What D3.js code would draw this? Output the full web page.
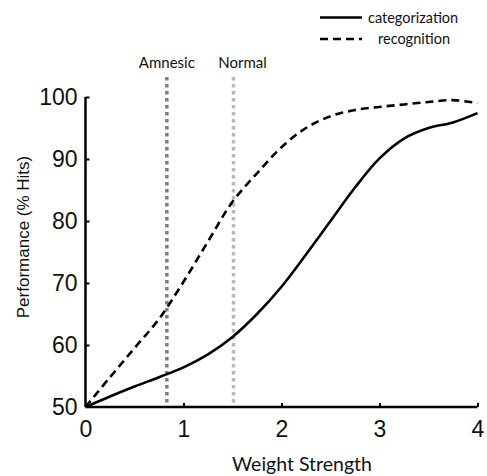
<!DOCTYPE html>
<html>
<head>
<meta charset="utf-8">
<script src="https://cdn.jsdelivr.net/npm/d3@7"></script>
<style>
  body { margin: 0; background: #fff; }
  svg { display: block; }
</style>
</head>
<body>
<div class="chart"></div>
<script>
// weight strength samples
var weights = [0, 0.25, 0.5, 0.75, 1, 1.25, 1.5, 1.75, 2, 2.25, 2.5, 2.75, 3, 3.25, 3.5, 3.75, 4];
// performance (% hits)
var categorization = [50, 51.7, 53.3, 54.8, 56.4, 58.5, 61.3, 65.0, 69.4, 74.6, 80.0, 85.4, 90.1, 93.3, 95.0, 95.9, 97.4];
var recognition = [50, 54.8, 59.5, 64.2, 70.2, 76.7, 83.1, 87.7, 91.9, 95.0, 96.9, 97.9, 98.4, 98.8, 99.2, 99.5, 99.0];

var xTicks = [0, 1, 2, 3, 4];
var yTicks = [50, 60, 70, 80, 90, 100];

// where the two groups sit on the weight axis
var markers = [
    {name: "Amnesic", weight: 0.83, color: "#7d7d7d", dx: 0},
    {name: "Normal", weight: 1.51, color: "#b8b8b8", dx: 9}
];

var width = 487, height = 476;
var margin = {left: 85.5, right: 9.5, top: 97, bottom: 69};
var tickFont = "'Liberation Sans', Arial, sans-serif";
var textFont = "Lato, 'Open Sans', sans-serif";

var svg = d3.select("div.chart")
    .append("svg")
    .attr("width", width)
    .attr("height", height);

var x = d3.scaleLinear()
    .domain([0, 4])
    .range([margin.left, width - margin.right]);

var y = d3.scaleLinear()
    .domain([50, 100])
    .range([height - margin.bottom, margin.top]);

// vertical dotted markers (drawn first, axes sit on top)
markers.forEach(function (m) {
    svg.append("line")
        .attr("x1", x(m.weight)).attr("x2", x(m.weight))
        .attr("y1", y(100) - 20).attr("y2", y(50))
        .attr("stroke", m.color)
        .attr("stroke-width", 3.5)
        .attr("stroke-dasharray", "3.5,3.5");
    svg.append("text")
        .attr("x", x(m.weight) + m.dx)
        .attr("y", 68)
        .attr("text-anchor", "middle")
        .style("font-family", textFont)
        .style("font-size", "15px")
        .attr("fill", "#111")
        .text(m.name);
});

// axes, ticks pointing inward
var xAxis = svg.append("g")
    .attr("transform", "translate(0," + y(50) + ")")
    .call(d3.axisBottom(x).tickValues(xTicks).tickSize(-4).tickPadding(10).tickFormat(d3.format("d")));

var yAxis = svg.append("g")
    .attr("transform", "translate(" + x(0) + ",0)")
    .call(d3.axisLeft(y).tickValues(yTicks).tickSize(-4).tickPadding(8).tickFormat(d3.format("d")));

[xAxis, yAxis].forEach(function (g) {
    g.select(".domain").attr("stroke", "#000").attr("stroke-width", 2.5);
    g.selectAll(".tick line").attr("stroke", "#000").attr("stroke-width", 2);
    g.selectAll(".tick text")
        .attr("fill", "#111")
        .style("font-family", tickFont)
        .style("font-size", "23px");
});
xAxis.selectAll(".tick text").attr("dy", "0.85em");
xAxis.selectAll(".tick").filter(function (d) { return d === 0; }).select("line").remove();
yAxis.selectAll(".tick").filter(function (d) { return d === 50; }).select("line").remove();
yAxis.select(".domain").attr("d", "M0," + y(50) + "V" + y(100));
xAxis.select(".domain").attr("d", "M" + x(0) + ",0H" + x(4));

// curves
var line = d3.line()
    .x(function (d) { return x(d[0]); })
    .y(function (d) { return y(d[1]); })
    .curve(d3.curveCatmullRom.alpha(0.5));

svg.append("path")
    .datum(d3.zip(weights, recognition))
    .attr("d", line)
    .attr("fill", "none")
    .attr("stroke", "#000")
    .attr("stroke-width", 2.6)
    .attr("stroke-dasharray", "8,5");

svg.append("path")
    .datum(d3.zip(weights, categorization))
    .attr("d", line)
    .attr("fill", "none")
    .attr("stroke", "#000")
    .attr("stroke-width", 2.6);

// axis titles
svg.append("text")
    .attr("x", 302)
    .attr("y", 471)
    .attr("text-anchor", "middle")
    .style("font-family", textFont)
    .style("font-size", "19.5px")
    .attr("fill", "#111")
    .text("Weight Strength");

svg.append("text")
    .attr("transform", "translate(29," + 237 + ") rotate(-90)")
    .attr("text-anchor", "middle")
    .style("font-family", tickFont)
    .style("font-size", "17px")
    .attr("fill", "#111")
    .text("Performance (% Hits)");

// legend
var legend = [
    {label: "categorization", dash: null, y: 17.5, tx: 368},
    {label: "recognition", dash: "8,5", y: 39, tx: 378}
];
legend.forEach(function (l) {
    svg.append("line")
        .attr("x1", 320).attr("x2", 362)
        .attr("y1", l.y).attr("y2", l.y)
        .attr("stroke", "#000")
        .attr("stroke-width", 2.6)
        .attr("stroke-dasharray", l.dash);
    svg.append("text")
        .attr("x", l.tx)
        .attr("y", l.y + 5)
        .style("font-family", textFont)
        .style("font-size", "14.5px")
        .attr("fill", "#111")
        .text(l.label);
});
</script>
</body>
</html>
